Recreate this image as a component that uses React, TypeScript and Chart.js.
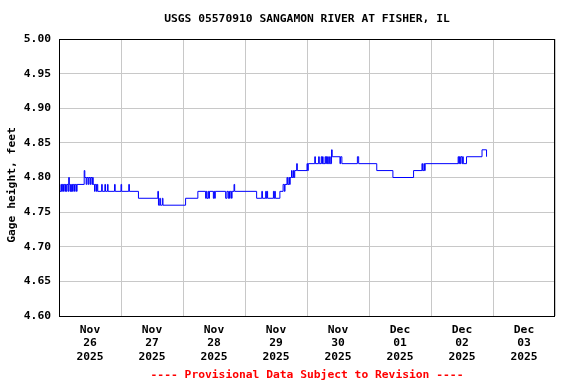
import React, { useEffect, useRef } from "react";
import { Chart, registerables } from "chart.js";

Chart.register(...registerables);

// Time of each change in gage height, in hours after Nov 26 2025 00:00
const hours = [
  0, 0.75, 1.0, 1.25, 1.5, 1.75, 2.25, 2.5, 2.75, 3.0, 3.5, 3.75, 4.0, 4.25, 4.5, 4.75, 5.0, 5.25, 5.5, 6.0, 6.25, 6.75, 7.0,
  9.75, 10.0, 10.5, 10.75, 11.25, 11.5, 12.0, 12.25, 12.75, 13.0, 13.25, 13.75, 14.0, 14.5, 14.75, 15.0,
  16.5, 16.75, 17.75, 18.0, 18.75, 19.0, 21.5, 21.75, 24.0, 24.25, 27.0, 27.25, 30.75,
  38.25, 38.5, 39.0, 39.25, 40.0, 40.25, 49.0, 53.75,
  56.75, 57.0, 57.25, 57.75, 58.0, 58.25, 59.75, 60.0, 60.25, 60.5, 64.5, 65.0,
  65.5, 65.75, 66.0, 66.25, 66.75, 67.0, 67.75, 68.0,
  76.5, 78.5, 78.75, 80.0, 80.25, 80.5, 80.75, 83.0, 83.25, 83.5, 83.75,
  85.5, 86.75, 87.25, 87.5, 88.25, 88.5, 89.0, 89.25, 89.5, 90.0, 90.25, 90.75, 91.0, 91.25, 92.0, 92.25, 96.0, 96.25, 96.5,
  99.0, 99.25, 100.5, 100.75, 101.5, 101.75, 102.0, 102.25, 103.0, 103.25, 103.5, 103.75, 104.0, 104.25, 104.75, 105.0,
  105.5, 105.75, 108.75, 109.0, 109.5,
  115.5, 116.0, 123.0, 129.25, 137.25, 140.5, 140.75, 141.25, 141.5, 141.75,
  154.5, 154.75, 155.0, 155.25, 155.5, 156.0, 156.25, 156.5, 157.75, 163.75, 165.5,
];

// Gage height, feet, from each change time until the next
const gage = [
  4.78, 4.79, 4.78, 4.79, 4.78, 4.79, 4.78, 4.79, 4.78, 4.79, 4.78, 4.8, 4.79, 4.78, 4.79, 4.78, 4.79, 4.78, 4.79, 4.78, 4.79, 4.78, 4.79,
  4.81, 4.8, 4.79, 4.8, 4.79, 4.8, 4.79, 4.8, 4.79, 4.8, 4.79, 4.78, 4.79, 4.78, 4.79, 4.78,
  4.79, 4.78, 4.79, 4.78, 4.79, 4.78, 4.79, 4.78, 4.79, 4.78, 4.79, 4.78, 4.77,
  4.78, 4.76, 4.77, 4.76, 4.77, 4.76, 4.77, 4.78,
  4.77, 4.78, 4.77, 4.78, 4.77, 4.78, 4.77, 4.78, 4.77, 4.78, 4.77, 4.78,
  4.77, 4.78, 4.77, 4.78, 4.77, 4.78, 4.79, 4.78,
  4.77, 4.78, 4.77, 4.78, 4.77, 4.78, 4.77, 4.78, 4.77, 4.78, 4.77,
  4.78, 4.79, 4.78, 4.79, 4.8, 4.79, 4.8, 4.79, 4.8, 4.81, 4.8, 4.81, 4.8, 4.81, 4.82, 4.81, 4.82, 4.81, 4.82,
  4.83, 4.82, 4.83, 4.82, 4.83, 4.82, 4.83, 4.82, 4.83, 4.82, 4.83, 4.82, 4.83, 4.82, 4.83, 4.82,
  4.84, 4.83, 4.82, 4.83, 4.82,
  4.83, 4.82, 4.81, 4.8, 4.81, 4.82, 4.81, 4.82, 4.81, 4.82,
  4.83, 4.82, 4.83, 4.82, 4.83, 4.82, 4.83, 4.82, 4.83, 4.84, 4.83,
];

const dayMonths = ["Nov", "Nov", "Nov", "Nov", "Nov", "Dec", "Dec", "Dec"];
const dayNumbers = ["26", "27", "28", "29", "30", "01", "02", "03"];
const dayYears = ["2025", "2025", "2025", "2025", "2025", "2025", "2025", "2025"];

const titleText = "USGS 05570910 SANGAMON RIVER AT FISHER, IL";
const yTitleText = "Gage height, feet";
const footerText = "---- Provisional Data Subject to Revision ----";

const FONT = '"DejaVu Sans Mono", "Liberation Mono", monospace';

export default function App() {
  const ref = useRef<HTMLCanvasElement | null>(null);

  useEffect(() => {
    if (!ref.current) return;
    const points = hours.map((h, i) => ({ x: h, y: gage[i] }));

    const textPlugin = {
      id: "usgsText",
      afterDraw(chart: any) {
        const { ctx, chartArea } = chart;
        const cx = (chartArea.left + chartArea.right) / 2;
        ctx.save();
        // box border
        ctx.strokeStyle = "#000000";
        ctx.lineWidth = 1;
        ctx.strokeRect(
          Math.round(chartArea.left) + 0.5,
          Math.round(chartArea.top) + 0.5,
          Math.round(chartArea.right - chartArea.left) - 1,
          Math.round(chartArea.bottom - chartArea.top)
        );
        ctx.font = `bold 11.3px ${FONT}`;
        ctx.textAlign = "center";
        ctx.textBaseline = "middle";
        ctx.fillStyle = "#000000";
        ctx.fillText(titleText, cx, 19);
        ctx.fillStyle = "#ff0000";
        ctx.fillText(footerText, cx, 375);
        ctx.fillStyle = "#000000";
        ctx.translate(12, 185);
        ctx.rotate(-Math.PI / 2);
        ctx.fillText(yTitleText, 0, 0);
        ctx.restore();
      },
    };

    const chart = new Chart(ref.current, {
      type: "line",
      data: {
        datasets: [
          {
            data: points,
            borderColor: "#0000ff",
            borderWidth: 1,
            pointRadius: 0,
            stepped: true,
            fill: false,
          },
        ],
      },
      options: {
        animation: false,
        responsive: false,
        maintainAspectRatio: false,
        layout: { padding: { left: 0, top: 39, right: 21, bottom: 0 } },
        plugins: {
          legend: { display: false },
          tooltip: { enabled: false },
          title: { display: false },
        },
        scales: {
          x: {
            type: "linear",
            min: 0,
            max: 192,
            afterFit: (scale: any) => {
              scale.height = 68;
            },
            border: { display: false },
            grid: {
              drawTicks: false,
              color: (ctx: any) =>
                ctx.tick && Math.round(ctx.tick.value) % 24 === 0 ? "#c8c8c8" : "rgba(0,0,0,0)",
              lineWidth: 1,
            },
            ticks: {
              stepSize: 12,
              autoSkip: false,
              maxRotation: 0,
              padding: 7,
              color: "#000000",
              font: { family: FONT, size: 11.3, weight: "bold", lineHeight: 1.2 },
              callback: (value: any) => {
                const v = Math.round(Number(value));
                if (v % 24 !== 12) return "";
                const d = (v - 12) / 24;
                return [dayMonths[d], dayNumbers[d], dayYears[d]];
              },
            },
          },
          y: {
            min: 4.6,
            max: 5.0,
            afterFit: (scale: any) => {
              scale.width = 59;
            },
            border: { display: false },
            grid: { drawTicks: false, color: "#c8c8c8", lineWidth: 1 },
            ticks: {
              stepSize: 0.05,
              padding: 8,
              color: "#000000",
              font: { family: FONT, size: 11.3, weight: "bold" },
              callback: (value: any) => Number(value).toFixed(2),
            },
          },
        },
      },
      plugins: [textPlugin],
    });

    return () => chart.destroy();
  }, []);

  return (
    <div style={{ position: "fixed", left: 0, top: 0, width: 576, height: 384, background: "#ffffff" }}>
      <canvas ref={ref} width={576} height={384} style={{ width: 576, height: 384 }} />
    </div>
  );
}
